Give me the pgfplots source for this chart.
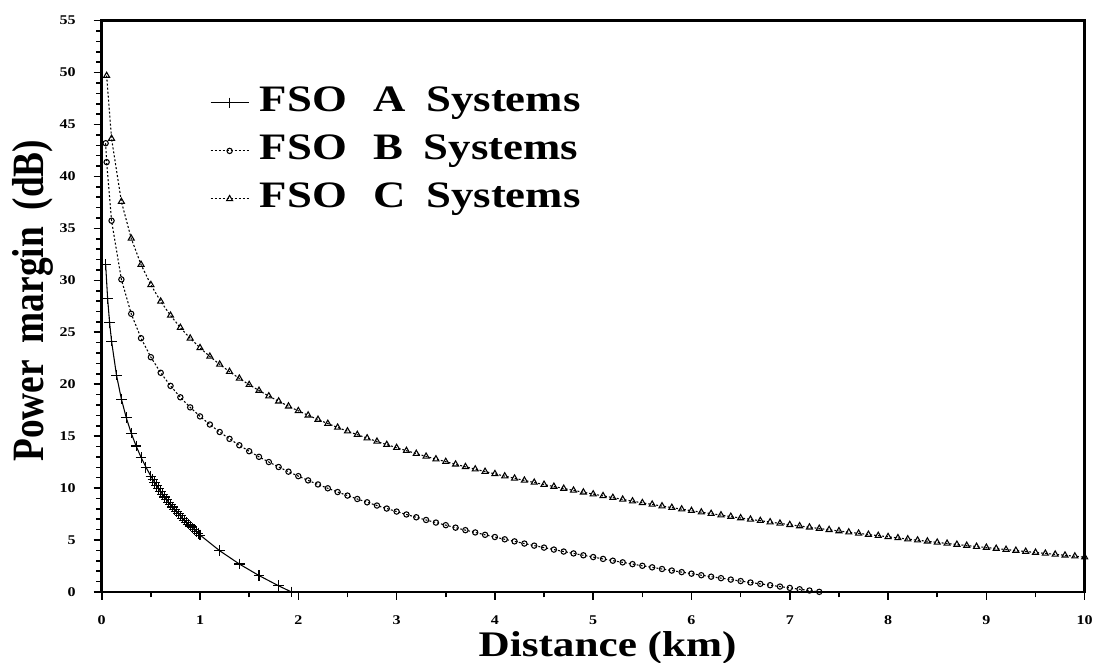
\documentclass[border=0pt]{standalone}
\usepackage{graphicx}
\usepackage{pgfplots}
\pgfplotsset{compat=1.18}
\usepackage{fontspec}
\setmainfont{Liberation Serif}
\newcommand{\wide}[1]{\scalebox{1.2}[1]{#1}}
\newcommand{\tall}[1]{\scalebox{1}[1.2]{#1}}
\begin{document}
\begin{tikzpicture}
\useasboundingbox (-76.3pt,-53.25pt) rectangle (746.5pt,444pt);
\begin{axis}[
  scale only axis, width=737.25pt, height=428.5pt,
  xmin=0, xmax=10, ymin=0, ymax=55,
  xtick={0,1,...,10}, ytick={0,5,...,55},
  minor x tick num=1, minor y tick num=4,
  tick align=outside, tick pos=left,
  major tick length=6pt, minor tick length=4pt,
  tick style={line width=1.2pt, black},
  axis line style={line width=2pt},
  xticklabel={\wide{\bfseries\fontsize{10}{10}\selectfont\pgfmathprintnumber[assume math mode=true]{\tick}}},
  yticklabel={\wide{\bfseries\fontsize{10}{10}\selectfont\pgfmathprintnumber[assume math mode=true]{\tick}}},
  xticklabel style={yshift=-8pt},
  yticklabel style={xshift=-10pt},
  xlabel={\wide{\bfseries\fontsize{27}{27}\selectfont Distance (km)}},
  ylabel={\tall{\bfseries\fontsize{28}{28}\selectfont Power\hspace{0.45em}margin\hspace{0.45em}(dB)}},
  xlabel style={at={(axis description cs:0.5146,-0.1133)}, anchor=base},
  ylabel style={at={(axis description cs:-0.0597,0.510)}, anchor=base, rotate=0},
  legend style={at={(axis description cs:0.110,0.888)}, anchor=north west,
    draw=none, fill=none, inner sep=0pt, row sep=9pt, column sep=7pt,
    nodes={inner sep=1pt, text height=19pt, text depth=6pt, anchor=west},
    font=\bfseries\fontsize{28}{28}\selectfont},
  legend cell align=left,
  legend image code/.code={\draw[mark repeat=2,mark phase=2,#1] plot coordinates {(0cm,0cm) (0.5cm,0cm) (1cm,0cm)};},
  clip=true,
]
\addplot[black, line width=0.8pt, mark=+, mark size=4pt] coordinates {
(0.04,31.51)(0.06,28.25)(0.08,25.94)(0.10,24.15)(0.15,20.88)(0.20,18.57)(0.25,16.77)(0.30,15.29)(0.35,14.05)(0.40,12.96)(0.45,12.01)(0.50,11.15)
(0.52,10.83)(0.54,10.53)(0.56,10.23)(0.58,9.94)(0.60,9.67)(0.62,9.40)(0.64,9.14)(0.66,8.89)(0.68,8.65)(0.70,8.41)
(0.72,8.18)(0.74,7.96)(0.76,7.74)(0.78,7.52)(0.80,7.32)(0.82,7.11)(0.84,6.92)(0.86,6.72)(0.88,6.53)(0.90,6.35)
(0.92,6.17)(0.94,5.99)(0.96,5.82)(0.98,5.65)(1.00,5.48)(1.20,3.97)(1.40,2.69)(1.60,1.58)(1.80,0.59)(1.93,0.0)
};
\addlegendentry{\wide{FSO\hspace{0.6em}A\hspace{0.45em}Systems}}
\addplot[black, line width=0.8pt, dash pattern=on 1.5pt off 1.5pt, mark=o, mark size=2pt, mark options={solid}] coordinates {
(0.04,43.20)(0.05,41.38)(0.1,35.74)(0.2,30.09)(0.3,26.78)(0.4,24.43)(0.5,22.60)(0.6,21.10)(0.7,19.84)(0.8,18.74)(0.9,17.77)(1.0,16.90)
(1.1,16.12)(1.2,15.40)(1.3,14.74)(1.4,14.12)(1.5,13.55)(1.6,13.01)(1.7,12.51)(1.8,12.03)(1.9,11.58)(2.0,11.15)
(2.1,10.74)(2.2,10.35)(2.3,9.98)(2.4,9.62)(2.5,9.28)(2.6,8.95)(2.7,8.63)(2.8,8.32)(2.9,8.03)(3.0,7.74)
(3.1,7.46)(3.2,7.19)(3.3,6.93)(3.4,6.68)(3.5,6.43)(3.6,6.19)(3.7,5.95)(3.8,5.73)(3.9,5.50)(4.0,5.29)
(4.1,5.07)(4.2,4.87)(4.3,4.66)(4.4,4.46)(4.5,4.27)(4.6,4.08)(4.7,3.89)(4.8,3.71)(4.9,3.53)(5.0,3.36)
(5.1,3.18)(5.2,3.01)(5.3,2.85)(5.4,2.68)(5.5,2.52)(5.6,2.37)(5.7,2.21)(5.8,2.06)(5.9,1.91)(6.0,1.76)
(6.1,1.61)(6.2,1.47)(6.3,1.33)(6.4,1.19)(6.5,1.05)(6.6,0.91)(6.7,0.78)(6.8,0.65)(6.9,0.52)(7.0,0.39)
(7.1,0.26)(7.2,0.14)(7.3,0.01)
};
\addlegendentry{\wide{FSO\hspace{0.6em}B\hspace{0.45em}Systems}}
\addplot[black, line width=0.8pt, dash pattern=on 1.5pt off 1.5pt, mark=triangle, mark size=2.6pt, mark options={solid}] coordinates {
(0.05,49.70)(0.1,43.65)(0.2,37.58)(0.3,34.04)(0.4,31.52)(0.5,29.57)(0.6,27.97)(0.7,26.62)(0.8,25.45)(0.9,24.42)(1.0,23.50)
(1.1,22.67)(1.2,21.91)(1.3,21.21)(1.4,20.56)(1.5,19.95)(1.6,19.39)(1.7,18.86)(1.8,18.36)(1.9,17.88)(2.0,17.44)
(2.1,17.01)(2.2,16.60)(2.3,16.21)(2.4,15.84)(2.5,15.48)(2.6,15.14)(2.7,14.81)(2.8,14.49)(2.9,14.18)(3.0,13.89)
(3.1,13.60)(3.2,13.32)(3.3,13.05)(3.4,12.79)(3.5,12.54)(3.6,12.29)(3.7,12.05)(3.8,11.82)(3.9,11.59)(4.0,11.37)
(4.1,11.15)(4.2,10.94)(4.3,10.74)(4.4,10.54)(4.5,10.34)(4.6,10.15)(4.7,9.96)(4.8,9.78)(4.9,9.60)(5.0,9.42)
(5.1,9.25)(5.2,9.08)(5.3,8.91)(5.4,8.74)(5.5,8.58)(5.6,8.43)(5.7,8.27)(5.8,8.12)(5.9,7.97)(6.0,7.82)
(6.1,7.68)(6.2,7.54)(6.3,7.40)(6.4,7.26)(6.5,7.12)(6.6,6.99)(6.7,6.86)(6.8,6.73)(6.9,6.60)(7.0,6.47)
(7.1,6.35)(7.2,6.23)(7.3,6.11)(7.4,5.99)(7.5,5.87)(7.6,5.75)(7.7,5.64)(7.8,5.53)(7.9,5.42)(8.0,5.31)
(8.1,5.20)(8.2,5.09)(8.3,4.98)(8.4,4.88)(8.5,4.77)(8.6,4.67)(8.7,4.57)(8.8,4.47)(8.9,4.37)(9.0,4.28)
(9.1,4.18)(9.2,4.08)(9.3,3.99)(9.4,3.89)(9.5,3.80)(9.6,3.71)(9.7,3.62)(9.8,3.53)(9.9,3.44)(10.0,3.35)
};
\addlegendentry{\wide{FSO\hspace{0.6em}C\hspace{0.45em}Systems}}
\end{axis}
\end{tikzpicture}
\end{document}
